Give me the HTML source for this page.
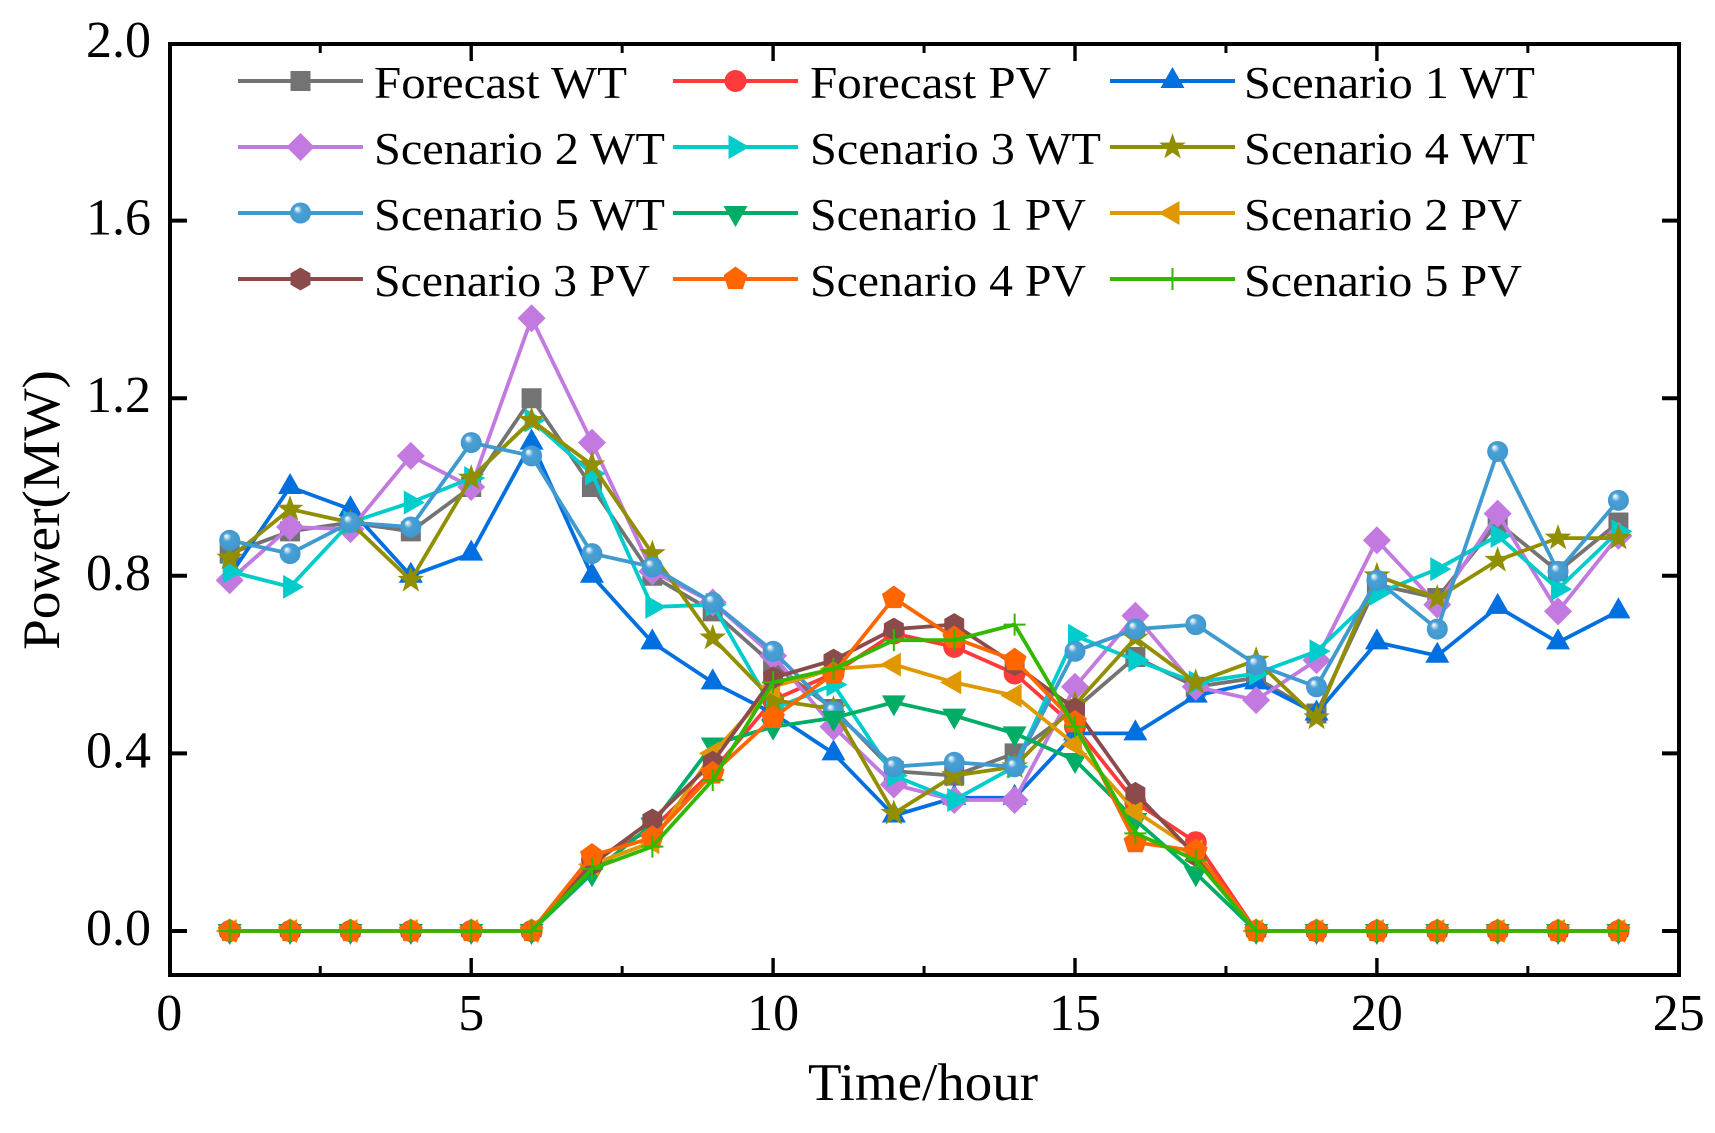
<!DOCTYPE html>
<html lang="en">
<head>
<meta charset="utf-8">
<title>Power forecast and scenarios</title>
<style>
html,body{margin:0;padding:0;background:#fff;}
svg{display:block;}
text{font-family:"Liberation Serif",serif;fill:#000;}
</style>
</head>
<body>
<svg id="chart" xmlns="http://www.w3.org/2000/svg" width="1715" height="1133" viewBox="0 0 1715 1133">
  <defs>
    <radialGradient id="ball" cx="0.5" cy="0.5" r="0.55" fx="0.32" fy="0.28">
      <stop offset="0" stop-color="#ffffff"/>
      <stop offset="0.14" stop-color="#c9e1f1"/>
      <stop offset="0.36" stop-color="#4aa0d4"/>
      <stop offset="1" stop-color="#3d97ce"/>
    </radialGradient>
  </defs>
  <rect x="0" y="0" width="1715" height="1133" fill="#fff"/>
  <g id="ticks"></g>
  <g id="series"></g>
  <rect x="170" y="44" width="1509" height="931" fill="none" stroke="#000" stroke-width="4"/>
  <g id="tick-labels"></g>
  <text x="929" y="1100" font-size="53" text-anchor="middle" textLength="230" lengthAdjust="spacingAndGlyphs" style="transform-box:fill-box" dx="-6">Time/hour</text>
  <text transform="translate(59,510) rotate(-90)" font-size="53" text-anchor="middle" textLength="280" lengthAdjust="spacingAndGlyphs">Power(MW)</text>
  <g id="legend">
    <text x="374" y="98" font-size="46" textLength="253" lengthAdjust="spacingAndGlyphs">Forecast WT</text>
    <text x="810" y="98" font-size="46" textLength="241" lengthAdjust="spacingAndGlyphs">Forecast PV</text>
    <text x="1244" y="98" font-size="46" textLength="291" lengthAdjust="spacingAndGlyphs">Scenario 1 WT</text>
    <text x="374" y="164" font-size="46" textLength="291" lengthAdjust="spacingAndGlyphs">Scenario 2 WT</text>
    <text x="810" y="164" font-size="46" textLength="291" lengthAdjust="spacingAndGlyphs">Scenario 3 WT</text>
    <text x="1244" y="164" font-size="46" textLength="291" lengthAdjust="spacingAndGlyphs">Scenario 4 WT</text>
    <text x="374" y="230" font-size="46" textLength="291" lengthAdjust="spacingAndGlyphs">Scenario 5 WT</text>
    <text x="810" y="230" font-size="46" textLength="276" lengthAdjust="spacingAndGlyphs">Scenario 1 PV</text>
    <text x="1244" y="230" font-size="46" textLength="278" lengthAdjust="spacingAndGlyphs">Scenario 2 PV</text>
    <text x="374" y="296" font-size="46" textLength="276" lengthAdjust="spacingAndGlyphs">Scenario 3 PV</text>
    <text x="810" y="296" font-size="46" textLength="276" lengthAdjust="spacingAndGlyphs">Scenario 4 PV</text>
    <text x="1244" y="296" font-size="46" textLength="278" lengthAdjust="spacingAndGlyphs">Scenario 5 PV</text>
  </g>
</svg>
<script>
const hours = [1,2,3,4,5,6,7,8,9,10,11,12,13,14,15,16,17,18,19,20,21,22,23,24];
const xTickLabels = [0,5,10,15,20,25];
const xMinorTicks = [2.5,7.5,12.5,17.5,22.5];
const yTickLabels = ['0.0','0.4','0.8','1.2','1.6','2.0'];

const forecastWT = [0.85,0.90,0.92,0.90,1.00,1.20,1.00,0.80,0.72,0.60,0.50,0.36,0.35,0.40,0.50,0.617,0.55,0.57,0.49,0.78,0.75,0.92,0.81,0.92];
const forecastPV = [0,0,0,0,0,0,0.16,0.23,0.36,0.52,0.58,0.67,0.64,0.58,0.46,0.29,0.20,0,0,0,0,0,0,0];
const scenario1WT = [0.80,1.00,0.95,0.80,0.85,1.10,0.80,0.65,0.56,0.49,0.40,0.26,0.30,0.30,0.445,0.445,0.53,0.56,0.49,0.65,0.62,0.73,0.65,0.72];
const scenario2WT = [0.79,0.91,0.905,1.07,1.00,1.38,1.10,0.81,0.74,0.62,0.46,0.33,0.295,0.295,0.55,0.71,0.55,0.52,0.61,0.88,0.735,0.94,0.72,0.89];
const scenario3WT = [0.81,0.775,0.92,0.965,1.02,1.15,1.03,0.73,0.735,0.50,0.555,0.35,0.295,0.37,0.665,0.61,0.56,0.58,0.63,0.76,0.815,0.89,0.77,0.90];
const scenario4WT = [0.84,0.95,0.92,0.79,1.02,1.15,1.05,0.85,0.66,0.52,0.50,0.265,0.35,0.37,0.51,0.66,0.56,0.61,0.48,0.80,0.75,0.835,0.885,0.885];
const scenario5WT = [0.88,0.85,0.92,0.91,1.10,1.07,0.85,0.82,0.74,0.63,0.495,0.37,0.38,0.37,0.63,0.68,0.69,0.60,0.55,0.79,0.68,1.08,0.81,0.97];
const scenario1PV = [0,0,0,0,0,0,0.13,0.24,0.42,0.46,0.48,0.515,0.485,0.445,0.385,0.25,0.13,0,0,0,0,0,0,0];
const scenario2PV = [0,0,0,0,0,0,0.15,0.20,0.40,0.55,0.59,0.60,0.56,0.53,0.42,0.27,0.18,0,0,0,0,0,0,0];
const scenario3PV = [0,0,0,0,0,0,0.15,0.25,0.38,0.57,0.61,0.68,0.69,0.60,0.50,0.31,0.17,0,0,0,0,0,0,0];
const scenario4PV = [0,0,0,0,0,0,0.17,0.21,0.355,0.48,0.58,0.75,0.66,0.61,0.47,0.20,0.18,0,0,0,0,0,0,0];
const scenario5PV = [0,0,0,0,0,0,0.14,0.19,0.34,0.56,0.59,0.655,0.655,0.69,0.46,0.22,0.16,0,0,0,0,0,0,0];

const seriesNames = ['forecast-wt','forecast-pv','scenario-1-wt','scenario-2-wt','scenario-3-wt','scenario-4-wt','scenario-5-wt','scenario-1-pv','scenario-2-pv','scenario-3-pv','scenario-4-pv','scenario-5-pv'];
const seriesValues = [forecastWT,forecastPV,scenario1WT,scenario2WT,scenario3WT,scenario4WT,scenario5WT,scenario1PV,scenario2PV,scenario3PV,scenario4PV,scenario5PV];
const seriesColors = ['#737373','#ff3a3a','#006fe0','#c279e0','#00cccc','#918f00','#3f9ad0','#00ad66','#e09800','#8b4b4b','#ff6600','#33b800'];
const seriesMarkers = ['square','circle','up','diamond','right','star','ball','down','left','hexagon','pentagon','plus'];

const NS = 'http://www.w3.org/2000/svg';
function xScale(v){ return 169.3 + v * 60.38; }
function yScale(v){ return 931 - v * 444; }

function starPath(R, r){
  let d = '';
  for (let i = 0; i < 10; i++) {
    const rad = i % 2 === 0 ? R : r;
    const a = -Math.PI / 2 + i * Math.PI / 5;
    d += (i ? 'L' : 'M') + (rad * Math.cos(a)).toFixed(2) + ' ' + (rad * Math.sin(a)).toFixed(2);
  }
  return d + 'Z';
}
function polyPath(n, R, start){
  let d = '';
  for (let i = 0; i < n; i++) {
    const a = start + i * 2 * Math.PI / n;
    d += (i ? 'L' : 'M') + (R * Math.cos(a)).toFixed(2) + ' ' + (R * Math.sin(a)).toFixed(2);
  }
  return d + 'Z';
}
const markerPaths = {
  square: 'M-10 -10H10V10H-10Z',
  up: 'M0 -14L12 7H-12Z',
  down: 'M0 14L12 -7H-12Z',
  right: 'M14 0L-7 12V-12Z',
  left: 'M-14 0L7 12V-12Z',
  diamond: 'M0 -14L14 0L0 14L-14 0Z',
  star: starPath(14, 5.6),
  hexagon: polyPath(6, 11.5, -Math.PI / 2),
  pentagon: polyPath(5, 12.5, -Math.PI / 2)
};

function makeMarker(type, color, cx, cy, name){
  let el;
  if (type === 'circle' || type === 'ball') {
    el = document.createElementNS(NS, 'circle');
    el.setAttribute('cx', cx);
    el.setAttribute('cy', cy);
    el.setAttribute('r', type === 'ball' ? 10.5 : 11);
    el.setAttribute('fill', type === 'ball' ? 'url(#ball)' : color);
  } else if (type === 'plus') {
    el = document.createElementNS(NS, 'path');
    el.setAttribute('d', 'M' + (cx - 11) + ' ' + cy + 'H' + (cx + 11) + 'M' + cx + ' ' + (cy - 11) + 'V' + (cy + 11));
    el.setAttribute('stroke', color);
    el.setAttribute('stroke-width', 2);
    el.setAttribute('fill', 'none');
  } else {
    el = document.createElementNS(NS, 'path');
    el.setAttribute('d', markerPaths[type]);
    el.setAttribute('transform', 'translate(' + cx + ',' + cy + ')');
    el.setAttribute('fill', color);
  }
  
  
  return el;
}

function makeLine(x1, y1, x2, y2, width, name, color){
  const el = document.createElementNS(NS, 'line');
  el.setAttribute('x1', x1);
  el.setAttribute('y1', y1);
  el.setAttribute('x2', x2);
  el.setAttribute('y2', y2);
  el.setAttribute('stroke', color);
  el.setAttribute('stroke-width', width);
  
  
  return el;
}

function makeLabel(str, x, y, anchor, name){
  const el = document.createElementNS(NS, 'text');
  el.setAttribute('x', x);
  el.setAttribute('y', y);
  el.setAttribute('font-size', 52);
  el.setAttribute('text-anchor', anchor);
  el.textContent = str;
  
  
  return el;
}

const tickGroup = document.getElementById('ticks');
const labelGroup = document.getElementById('tick-labels');
const AX_TOP = 44, AX_BOTTOM = 975, AX_LEFT = 170, AX_RIGHT = 1679;

xTickLabels.forEach(function(v){
  const x = xScale(v);
  if (v > 0 && v < 25) {
    tickGroup.appendChild(makeLine(x, AX_BOTTOM, x, AX_BOTTOM - 17, 3.4, 'x-major-tick-bottom', '#000'));
    tickGroup.appendChild(makeLine(x, AX_TOP, x, AX_TOP + 17, 3.4, 'x-major-tick-top', '#000'));
  }
  labelGroup.appendChild(makeLabel(String(v), x, 1030, 'middle', 'x-tick-label'));
});
xMinorTicks.forEach(function(v){
  const x = xScale(v);
  tickGroup.appendChild(makeLine(x, AX_BOTTOM, x, AX_BOTTOM - 9, 3, 'x-minor-tick-bottom', '#000'));
  tickGroup.appendChild(makeLine(x, AX_TOP, x, AX_TOP + 9, 3, 'x-minor-tick-top', '#000'));
});
yTickLabels.forEach(function(label){
  const y = yScale(parseFloat(label));
  if (parseFloat(label) < 2) {
    tickGroup.appendChild(makeLine(AX_LEFT, y, AX_LEFT + 17, y, 4, 'y-tick-left', '#000'));
    tickGroup.appendChild(makeLine(AX_RIGHT, y, AX_RIGHT - 17, y, 4, 'y-tick-right', '#000'));
  }
  labelGroup.appendChild(makeLabel(label, 151, y + 14, 'end', 'y-tick-label'));
});

const seriesGroup = document.getElementById('series');
seriesNames.forEach(function(name, s){
  const values = seriesValues[s];
  const g = document.createElementNS(NS, 'g');
  
  
  const line = document.createElementNS(NS, 'polyline');
  line.setAttribute('points', hours.map(function(h, i){ return xScale(h).toFixed(1) + ',' + yScale(values[i]).toFixed(1); }).join(' '));
  line.setAttribute('fill', 'none');
  line.setAttribute('stroke', seriesColors[s]);
  line.setAttribute('stroke-width', 3.8);
  line.setAttribute('stroke-linejoin', 'miter');
  
  
  g.appendChild(line);
  hours.forEach(function(h, i){
    g.appendChild(makeMarker(seriesMarkers[s], seriesColors[s], xScale(h), yScale(values[i]), name + '-point'));
  });
  seriesGroup.appendChild(g);
});

const legendGroup = document.getElementById('legend');
const legendColStart = [238, 673, 1110];
const legendRowY = [81, 147, 213, 279];
seriesNames.forEach(function(name, s){
  const col = s % 3;
  const row = Math.floor(s / 3);
  const x0 = legendColStart[col];
  const y0 = legendRowY[row];
  legendGroup.appendChild(makeLine(x0, y0, x0 + 125, y0, 4, 'legend-line-' + name, seriesColors[s]));
  legendGroup.appendChild(makeMarker(seriesMarkers[s], seriesColors[s], x0 + 62.5, y0, 'legend-marker-' + name));
});
</script>
</body>
</html>
